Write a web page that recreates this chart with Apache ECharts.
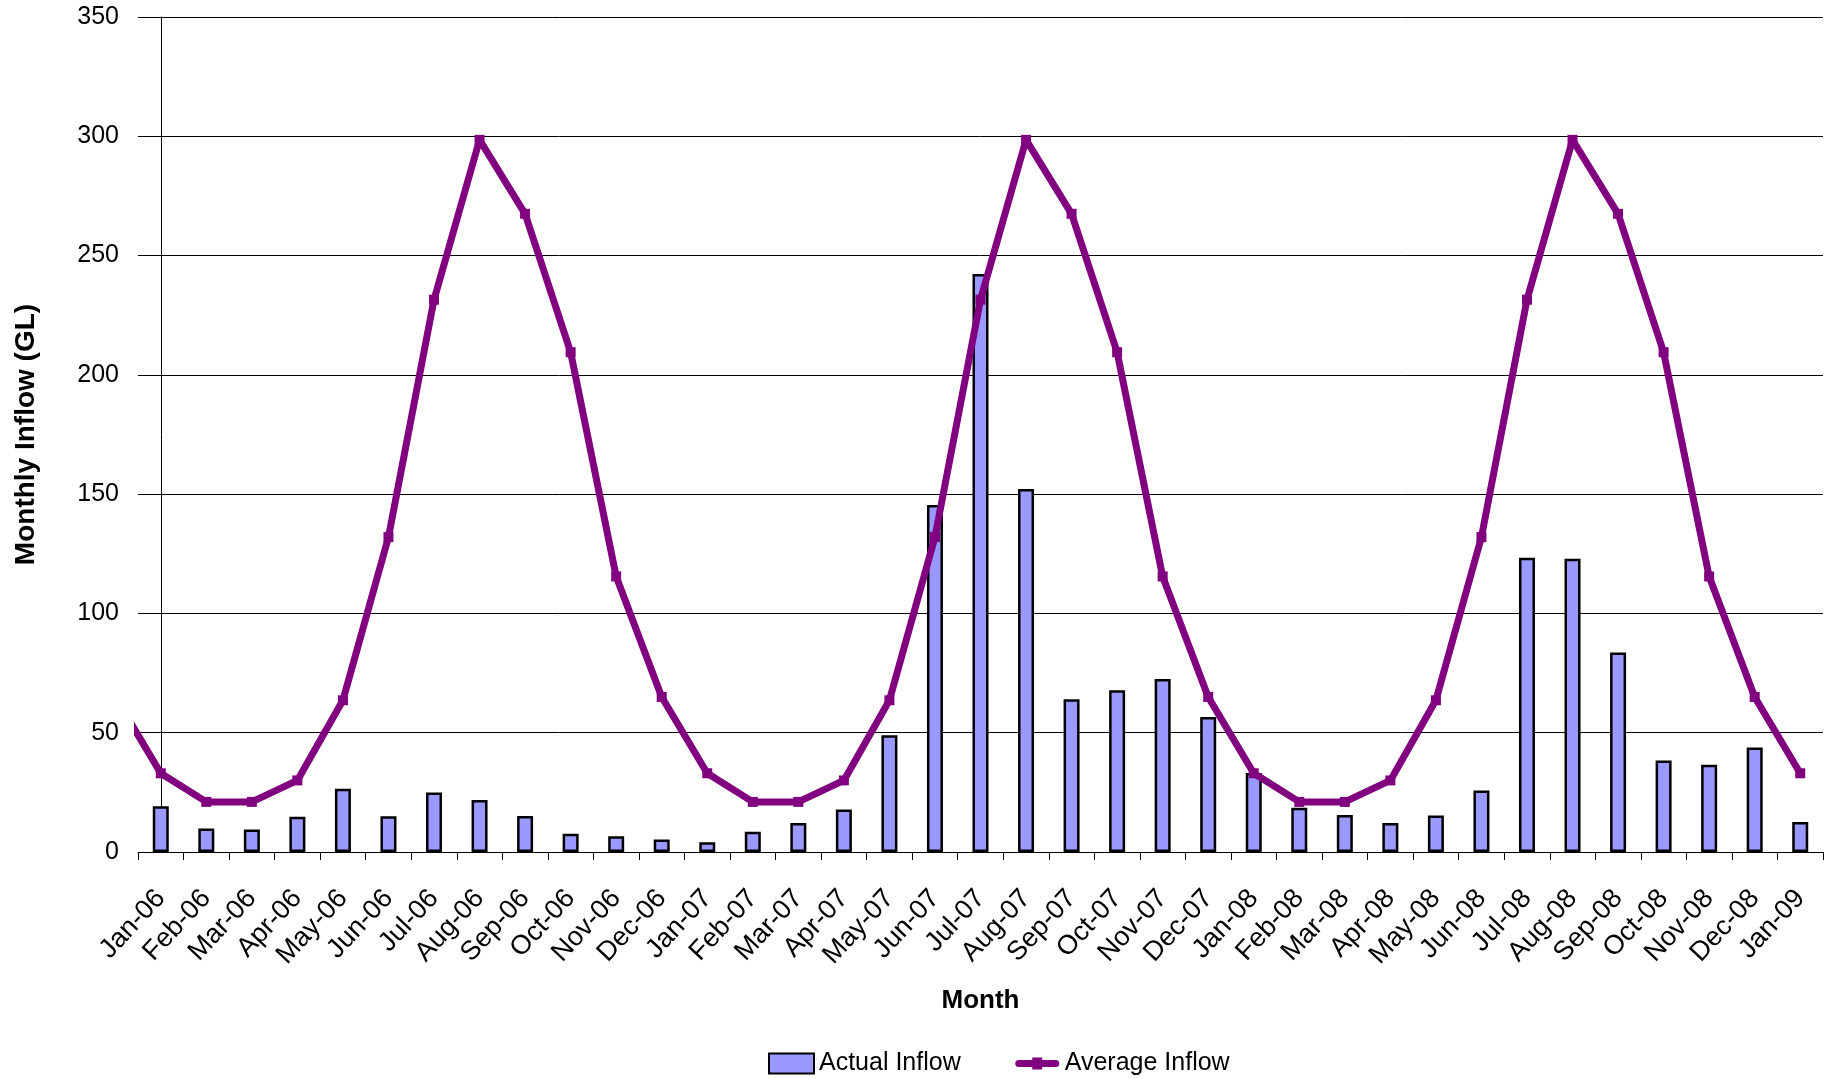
<!DOCTYPE html>
<html>
<head>
<meta charset="utf-8">
<script src="https://cdn.jsdelivr.net/npm/echarts@6/dist/echarts.min.js"></script>
<style>
html,body{margin:0;padding:0;background:#fff;}
#chart{width:1830px;height:1079px;}
</style>
</head>
<body>
<div id="chart"></div>
<script>
const months = ['Jan-06','Feb-06','Mar-06','Apr-06','May-06','Jun-06','Jul-06','Aug-06','Sep-06','Oct-06','Nov-06','Dec-06',
  'Jan-07','Feb-07','Mar-07','Apr-07','May-07','Jun-07','Jul-07','Aug-07','Sep-07','Oct-07','Nov-07','Dec-07',
  'Jan-08','Feb-08','Mar-08','Apr-08','May-08','Jun-08','Jul-08','Aug-08','Sep-08','Oct-08','Nov-08','Dec-08',
  'Jan-09'];
const actualInflow = [19.2, 9.9, 9.4, 14.8, 26.5, 15.0, 24.9, 21.8, 15.1, 7.6, 6.6, 5.2,
  4.1, 8.5, 12.2, 17.8, 48.9, 145.4, 242.3, 152.2, 64.0, 67.8, 72.5, 56.6,
  33.1, 18.5, 15.5, 12.2, 15.3, 25.8, 123.3, 122.9, 83.6, 38.4, 36.6, 43.8,
  12.6];
// average inflow; the line starts from the previous December (Dec-05), clipped at the axis
const averagePrevDec = 65;
const averageInflow = [33, 21, 21, 30, 63.6, 132, 231.5, 298.5, 267.5, 209.5, 115.5, 65,
  33, 21, 21, 30, 63.6, 132, 231.5, 298.5, 267.5, 209.5, 115.5, 65,
  33, 21, 21, 30, 63.6, 132, 231.5, 298.5, 267.5, 209.5, 115.5, 65,
  33];
const yTicks = {min: 0, max: 350, interval: 50};

const lineData = [[-1, averagePrevDec]].concat(averageInflow.map((v, i) => [i, v]));
const FONT = '"Liberation Sans", Arial, sans-serif';
// legend icon: thick line with a small square marker (tiny corner specks fix the 45x20 box)
const lineLegendIcon = 'path://M0,0L0.05,0L0,0.05Z M45,20L44.95,20L45,19.95Z ' +
  'M4,6.5 L41,6.5 A3.5,3.5 0 0 1 41,13.5 L4,13.5 A3.5,3.5 0 0 1 4,6.5 Z ' +
  'M17.5,4 L27.5,4 L27.5,16 L17.5,16 Z';

const chart = echarts.init(document.getElementById('chart'), null, {renderer: 'canvas'});
chart.setOption({
  animation: false,
  backgroundColor: '#fff',
  textStyle: {fontFamily: FONT},
  grid: {left: 138, right: 7, top: 17, bottom: 227, containLabel: false},
  legend: {
    data: [{name: 'Actual Inflow', icon: 'rect'}, {name: 'Average Inflow', icon: lineLegendIcon}],
    top: 1046, left: 763,
    itemWidth: 45, itemHeight: 20, itemGap: 54,
    textStyle: {fontSize: 25, color: '#000', fontFamily: FONT}
  },
  xAxis: [{
    type: 'category', data: months, boundaryGap: true,
    axisLine: {lineStyle: {color: '#000', width: 1}},
    axisTick: {show: true, length: 8, lineStyle: {color: '#000'}},
    axisLabel: {rotate: 47, interval: 0, fontSize: 27, color: '#000', margin: 42, fontFamily: FONT},
    name: 'Month', nameLocation: 'middle', nameGap: 136,
    nameTextStyle: {fontSize: 26, fontWeight: 'bold', color: '#000', fontFamily: FONT}
  }, {
    type: 'value', min: -0.5, max: 36.5, show: false
  }],
  yAxis: {
    type: 'value', min: yTicks.min, max: yTicks.max, interval: yTicks.interval,
    axisLine: {show: true, lineStyle: {color: '#000', width: 1}},
    axisTick: {show: true, length: 8, lineStyle: {color: '#000'}},
    splitLine: {show: true, lineStyle: {color: '#000', width: 1}},
    axisLabel: {fontSize: 25, color: '#000', margin: 19, fontFamily: FONT},
    name: 'Monthly Inflow (GL)', nameLocation: 'middle', nameGap: 98, nameRotate: 90,
    nameTextStyle: {fontSize: 28, fontWeight: 'bold', color: '#000', fontFamily: FONT}
  },
  series: [{
    name: 'Actual Inflow', type: 'bar', xAxisIndex: 0,
    data: actualInflow, barWidth: 16,
    itemStyle: {color: '#9999FF', borderColor: '#000', borderWidth: 2.5}
  }, {
    name: 'Average Inflow', type: 'line', xAxisIndex: 1,
    data: lineData, clip: true,
    symbol: 'rect', symbolSize: 10, showSymbol: true,
    lineStyle: {color: '#800080', width: 7, cap: 'round', join: 'round'},
    itemStyle: {color: '#800080'},
    z: 5
  }]
});
</script>
</body>
</html>
